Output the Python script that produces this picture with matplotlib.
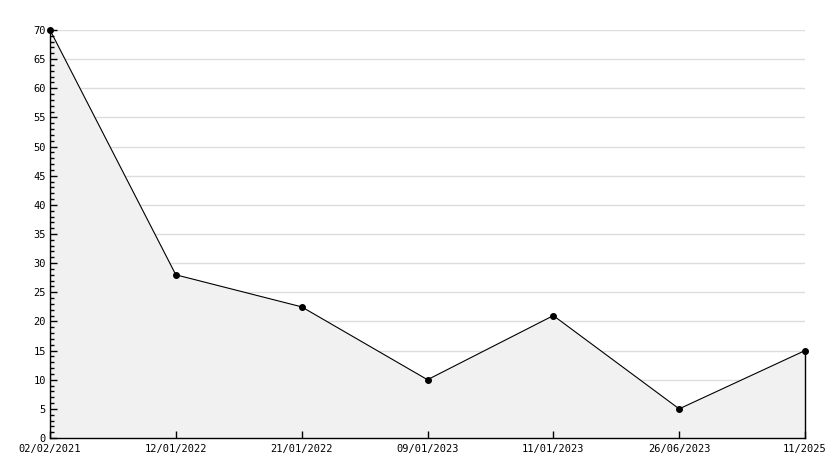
import matplotlib.pyplot as plt
from matplotlib.ticker import MultipleLocator

dates = ['02/02/2021', '12/01/2022', '21/01/2022', '09/01/2023',
         '11/01/2023', '26/06/2023', '11/2025']
values = [70, 28, 22.5, 10, 21, 5, 15]


def main():
    fig = plt.figure(figsize=(8.34, 4.68), dpi=100)
    ax = fig.add_axes([50 / 834, 30 / 468, 755 / 834, 408 / 468])
    x = list(range(len(dates)))

    ax.set_xlim(0, len(dates) - 1)
    ax.set_ylim(0, 70)
    ax.yaxis.set_major_locator(MultipleLocator(5))
    ax.yaxis.set_minor_locator(MultipleLocator(1))

    # grid lines under the filled area
    for t in ax.get_yticks()[1:]:
        ax.axhline(t, color='#dddddd', lw=1, zorder=0)

    ax.fill_between(x, values, 0, facecolor='#f1f1f1', edgecolor='none', zorder=1)
    ax.plot([x[-1], x[-1]], [0, values[-1]], color='black', lw=1, zorder=2,
            clip_on=False)
    ax.plot(x, values, color='black', lw=0.8, marker='o', ms=4, zorder=3,
            clip_on=False)

    ax.set_xticks(x)
    ax.set_xticklabels(dates, family='DejaVu Sans Mono', fontsize=7.5)
    for lab in ax.get_yticklabels():
        lab.set_family('DejaVu Sans Mono')
        lab.set_fontsize(7.5)
    ax.tick_params(axis='y', which='major', direction='in', length=5, width=1, pad=3)
    ax.tick_params(axis='y', which='minor', direction='in', length=3, width=1)
    ax.tick_params(axis='x', direction='in', length=5, width=1, pad=4)
    ax.set_axisbelow(False)
    for side in ['top', 'right']:
        ax.spines[side].set_visible(False)
    ax.spines['left'].set_linewidth(1)
    ax.spines['bottom'].set_linewidth(1)

    fig.savefig('out.png', dpi=100)


if __name__ == '__main__':
    main()
